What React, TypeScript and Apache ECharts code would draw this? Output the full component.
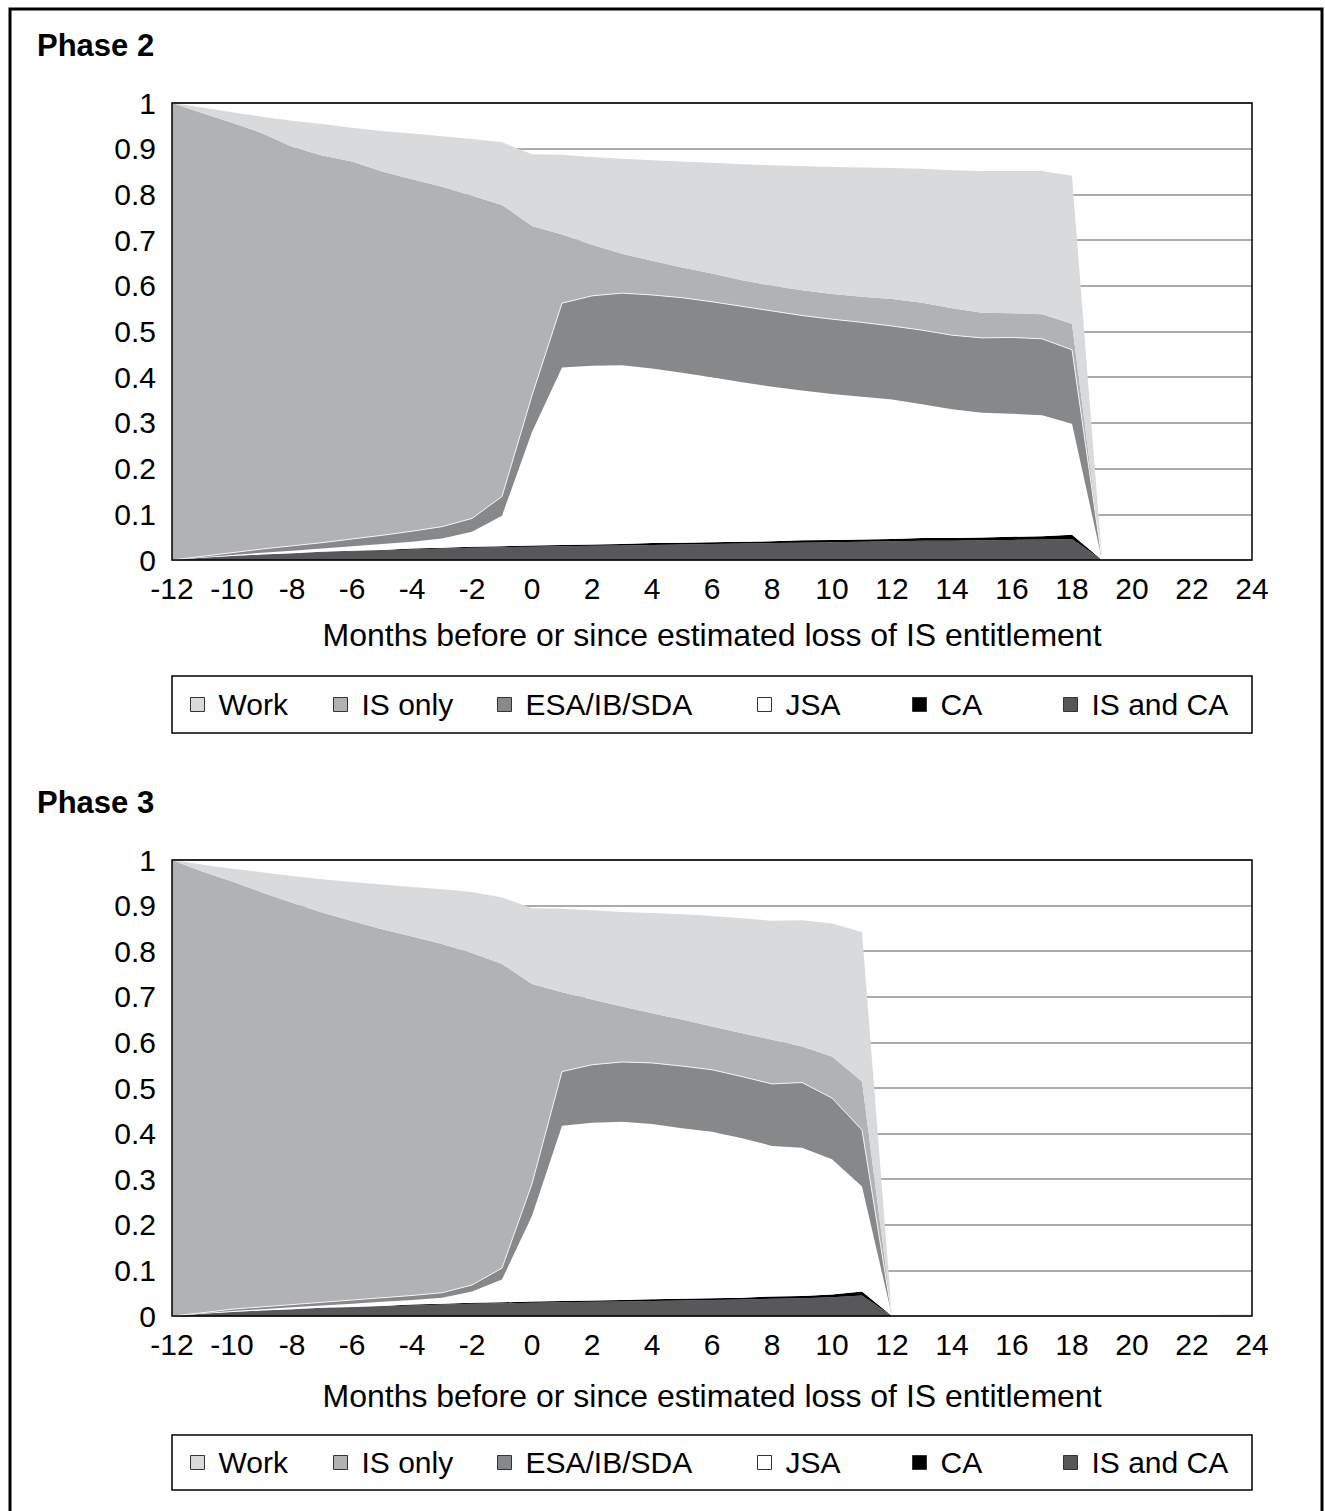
import React, { useEffect, useRef } from "react";
import * as echarts from "echarts";

// ---------- DATA ----------
const xCategories = [-12, -11, -10, -9, -8, -7, -6, -5, -4, -3, -2, -1, 0, 1, 2, 3, 4, 5, 6, 7, 8, 9, 10, 11, 12, 13, 14, 15, 16, 17, 18, 19, 20, 21, 22, 23, 24];

const months2 = [-12, -11, -10, -9, -8, -7, -6, -5, -4, -3, -2, -1, 0, 1, 2, 3, 4, 5, 6, 7, 8, 9, 10, 11, 12, 13, 14, 15, 16, 17, 18, 19];
const isAndCa2 = [0, .004, .008, .011, .014, .017, .019, .021, .023, .025, .027, .028, .029, .030, .031, .032, .033, .034, .035, .036, .037, .038, .039, .040, .041, .042, .042, .043, .044, .045, .046, 0];
const ca2 = [0, .001, .001, .001, .001, .001, .001, .001, .002, .002, .002, .002, .003, .003, .003, .003, .004, .004, .004, .004, .004, .005, .005, .005, .005, .006, .006, .006, .007, .007, .009, 0];
const jsa2 = [0, .001, .002, .004, .005, .007, .010, .013, .015, .020, .033, .067, .248, .388, .391, .391, .382, .372, .361, .349, .338, .328, .319, .312, .305, .293, .282, .273, .269, .265, .243, 0];
const esa2 = [0, .002, .005, .008, .011, .013, .016, .019, .023, .026, .029, .042, .080, .141, .153, .158, .161, .164, .165, .166, .166, .164, .164, .163, .161, .162, .162, .164, .167, .167, .162, 0];
const isOnly2 = [1.0, .970, .941, .910, .873, .847, .826, .796, .770, .744, .706, .638, .371, .150, .112, .086, .075, .066, .062, .057, .055, .055, .055, .056, .059, .060, .059, .055, .053, .054, .057, 0];
const work2 = [0, .012, .023, .036, .057, .069, .074, .089, .100, .110, .124, .137, .157, .175, .192, .208, .220, .232, .242, .254, .264, .272, .278, .283, .287, .293, .302, .310, .311, .313, .324, 0];

const months3 = [-12, -11, -10, -9, -8, -7, -6, -5, -4, -3, -2, -1, 0, 1, 2, 3, 4, 5, 6, 7, 8, 9, 10, 11, 12, 13, 14, 15, 16, 17, 18, 19, 20, 21, 22, 23, 24];
const isAndCa3 = [0, .004, .008, .011, .014, .017, .019, .021, .023, .025, .027, .028, .029, .030, .031, .032, .033, .034, .035, .036, .038, .039, .041, .045, 0, 0, 0, 0, 0, 0, 0, 0, 0, 0, 0, 0, 0];
const ca3 = [0, .001, .001, .001, .001, .001, .001, .001, .002, .002, .002, .002, .003, .003, .003, .003, .004, .004, .004, .004, .005, .005, .006, .009, 0, 0, 0, 0, 0, 0, 0, 0, 0, 0, 0, 0, 0];
const jsa3 = [0, .001, .002, .003, .004, .005, .007, .009, .010, .013, .025, .050, .188, .384, .390, .391, .384, .374, .365, .350, .330, .325, .297, .230, 0, 0, 0, 0, 0, 0, 0, 0, 0, 0, 0, 0, 0];
const esa3 = [0, .001, .004, .005, .006, .007, .008, .009, .010, .011, .014, .025, .070, .119, .127, .131, .134, .136, .136, .135, .136, .143, .134, .124, 0, 0, 0, 0, 0, 0, 0, 0, 0, 0, 0, 0, 0];
const isOnly3 = [1.0, .968, .938, .909, .881, .855, .831, .808, .787, .765, .728, .667, .438, .174, .143, .122, .109, .102, .095, .095, .097, .079, .091, .106, 0, 0, 0, 0, 0, 0, 0, 0, 0, 0, 0, .003, .003];
const work3 = [0, .015, .028, .044, .059, .073, .086, .098, .109, .120, .134, .146, .166, .183, .196, .207, .220, .231, .242, .252, .261, .277, .292, .328, 0, 0, 0, 0, 0, 0, 0, 0, 0, 0, 0, 0, 0];

const seriesNames = ["IS and CA", "CA", "JSA", "ESA/IB/SDA", "IS only", "Work"]; // stacking order (bottom first)
const legendOrder = ["Work", "IS only", "ESA/IB/SDA", "JSA", "CA", "IS and CA"];
const yTicks = { min: 0, max: 1, step: 0.1 };
const xTitle = "Months before or since estimated loss of IS entitlement";
const panelTitles = ["Phase 2", "Phase 3"];

// ---------- STYLE ----------
const COLORS: Record<string, string> = {
  "IS and CA": "#58585a",
  CA: "#000000",
  JSA: "#ffffff",
  "ESA/IB/SDA": "#87888a",
  "IS only": "#b1b2b4",
  Work: "#d9dadc",
};
const FONT = "'Liberation Sans', Arial, sans-serif";
const FS = 30;

const GRIDS = [
  { left: 172, top: 103, width: 1080, height: 457 },
  { left: 172, top: 860, width: 1080, height: 456 },
];
const LEGEND_BOX = [
  { x: 172, y: 676, w: 1080, h: 57 },
  { x: 172, y: 1435, w: 1080, h: 55 },
];
const LEGEND_X = [190, 333, 497, 757, 912, 1063];

function buildSeries(gridIdx: number, months: number[], values: number[][]) {
  return seriesNames.map((name, k) => ({
    name,
    type: "line",
    xAxisIndex: gridIdx,
    yAxisIndex: gridIdx,
    stack: "p" + gridIdx,
    data: months.map((m, i) => [String(m), values[k][i]]),
    showSymbol: false,
    symbol: "none",
    lineStyle: name === "ESA/IB/SDA" ? { width: 1, color: "#f2f2f2" } : { width: 0, color: COLORS[name] },
    itemStyle: { color: COLORS[name] },
    areaStyle: { color: COLORS[name], opacity: 1 },
    emphasis: { disabled: true },
  }));
}

function buildOption() {
  const xAxis = GRIDS.map((_, i) => ({
    type: "category",
    gridIndex: i,
    data: xCategories.map(String),
    boundaryGap: false,
    axisLine: { show: false },
    axisTick: { show: false },
    splitLine: { show: false },
    axisLabel: { interval: 1, fontSize: FS, color: "#000", fontFamily: FONT, margin: 13 },
    name: xTitle,
    nameLocation: "middle",
    nameGap: i === 0 ? 59 : 64,
    nameTextStyle: { fontSize: 32, color: "#000", fontFamily: FONT },
  }));
  const yAxis = GRIDS.map((_, i) => ({
    type: "value",
    gridIndex: i,
    min: yTicks.min,
    max: yTicks.max,
    interval: yTicks.step,
    axisLine: { show: false },
    axisTick: { show: false },
    splitLine: { show: true, lineStyle: { color: "#8f8f8f", width: 1.5 } },
    axisLabel: { fontSize: FS, color: "#000", fontFamily: FONT, margin: 16 },
  }));

  const legends: any[] = [];
  LEGEND_BOX.forEach((b) => {
    legendOrder.forEach((name, j) => {
      legends.push({
        data: [name],
        left: LEGEND_X[j],
        top: b.y + b.h / 2 - 15,
        padding: 0,
        icon: "rect",
        itemWidth: 14,
        itemHeight: 14,
        itemStyle: { borderColor: "#333", borderWidth: 1 },
        selectedMode: false,
        textStyle: { fontSize: FS, color: "#000", fontFamily: FONT, lineHeight: 30, padding: [0, 0, 0, 9] },
      });
    });
  });

  const graphic: any[] = [
    {
      type: "rect",
      shape: { x: 10, y: 9, width: 1312, height: 1560 },
      style: { fill: "none", stroke: "#000", lineWidth: 3 },
      z: 100,
      silent: true,
    },
  ];
  GRIDS.forEach((g, i) => {
    graphic.push({
      type: "rect",
      shape: { x: g.left, y: g.top, width: g.width, height: g.height },
      style: { fill: "none", stroke: "#000", lineWidth: 1.5 },
      z: 100,
      silent: true,
    });
    const b = LEGEND_BOX[i];
    graphic.push({
      type: "rect",
      shape: { x: b.x, y: b.y, width: b.w, height: b.h },
      style: { fill: "none", stroke: "#000", lineWidth: 1.5 },
      z: 100,
      silent: true,
    });
    graphic.push({
      type: "text",
      x: 37,
      y: i === 0 ? 45 : 802,
      style: {
        text: panelTitles[i],
        font: `bold 31px ${FONT}`,
        fill: "#000",
        verticalAlign: "middle",
      },
      z: 100,
      silent: true,
    });
  });

  return {
    animation: false,
    backgroundColor: "#fff",
    grid: GRIDS,
    xAxis,
    yAxis,
    legend: legends,
    graphic,
    series: [
      ...buildSeries(0, months2, [isAndCa2, ca2, jsa2, esa2, isOnly2, work2]),
      ...buildSeries(1, months3, [isAndCa3, ca3, jsa3, esa3, isOnly3, work3]),
    ],
  };
}

export default function App() {
  const ref = useRef<HTMLDivElement>(null);
  useEffect(() => {
    if (!ref.current) return;
    const chart = echarts.init(ref.current, null, { renderer: "svg" });
    chart.setOption(buildOption() as any);
    return () => chart.dispose();
  }, []);
  return (
    <div
      ref={ref}
      style={{ position: "absolute", left: 0, top: 0, width: 1325, height: 1511, background: "#fff" }}
    />
  );
}
